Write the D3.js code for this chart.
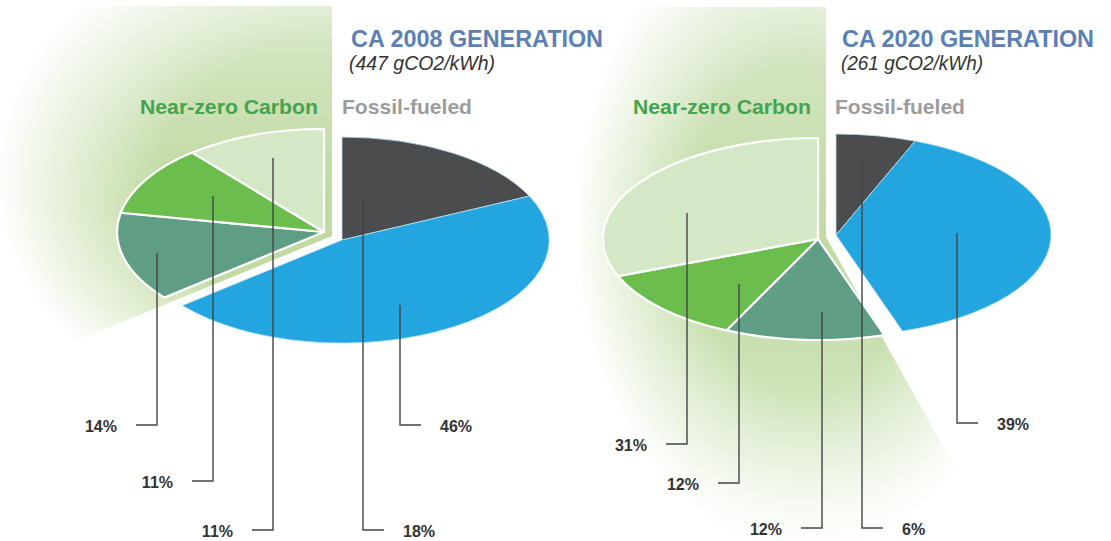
<!DOCTYPE html>
<html>
<head>
<meta charset="utf-8">
<script src="https://cdn.jsdelivr.net/npm/d3@7"></script>
<style>
  html, body { margin: 0; padding: 0; background: #fff; }
  svg { display: block; font-family: "Liberation Sans", Arial, sans-serif; }
</style>
</head>
<body>
<div id="chart"></div>
<script>
// slice order, clockwise from 12 o'clock: 2 fossil slices then 3 near-zero slices
var sliceKeys = ["coal / other", "natural gas", "nuclear", "large hydro", "renewables"];
var sliceGroup = ["fossil", "fossil", "nearZero", "nearZero", "nearZero"];
var sliceColors = ["#4b4c4e", "#23a6e0", "#5f9e84", "#6bbd4e", "#d5e8c5"];

var years = ["2008", "2020"];
var intensities = ["447 gCO2/kWh", "261 gCO2/kWh"];
var shares2008 = [18, 46, 14, 11, 11];
var shares2020 = [6, 39, 12, 12, 31];

var groupTitles = ["Near-zero Carbon", "Fossil-fueled"];

// layout only (px in the 1111x541 frame)
var layouts = [
  {
    nz: [324, 232], fossil: [342, 240], rx: 207, ry: 103,
    glow: [[0, 6], [332, 6], [332, 236], [0, 372]],
    fade: {cx: 330, cy: 175, rx: 335, ry: 265},
    fill: [[0, "#d9e8cb"], [0.55, "#bfd99f"], [1, "#c4dca6"]], fillH: 372,
    title: [351, 252], sub: [349, 146], groupX: 332,
    leaders: [
      {x: 363, top: 200, y: 530, dir: 1},
      {x: 400, top: 305, y: 425, dir: 1},
      {x: 157, top: 253, y: 425, dir: -1},
      {x: 213, top: 196, y: 481, dir: -1},
      {x: 273, top: 158, y: 530, dir: -1}
    ]
  },
  {
    nz: [818, 239], fossil: [836, 235], rx: 215, ry: 101,
    glow: [[572, 7], [826, 7], [826, 237], [996, 541], [572, 541]],
    fade: {cx: 805, cy: 225, rx: 230, ry: 330},
    fill: [[0, "#d9e8cb"], [0.45, "#c0daa1"], [0.8, "#d2e5bf"], [1, "#eaf3e2"]], fillH: 541,
    title: [842, 252], sub: [841, 142], groupX: 825,
    leaders: [
      {x: 862, top: 160, y: 528, dir: 1},
      {x: 957, top: 233, y: 423, dir: 1},
      {x: 822, top: 312, y: 528, dir: -1},
      {x: 739, top: 284, y: 483, dir: -1},
      {x: 687, top: 213, y: 444, dir: -1}
    ]
  }
];

var width = 1111, height = 541;
var svg = d3.select("#chart").append("svg")
  .attr("width", width)
  .attr("height", height);

var defs = svg.append("defs");

var pie = d3.pie().sort(null).value(d => d).startAngle(0).endAngle(2 * Math.PI);
var arc = d3.arc().innerRadius(0).outerRadius(1);

[shares2008, shares2020].forEach(function(shares, i) {
  var L = layouts[i];

  // green glow behind the near-zero half
  var fill = defs.append("linearGradient")
    .attr("id", "glowFill" + i)
    .attr("gradientUnits", "userSpaceOnUse")
    .attr("x1", 0).attr("y1", 0).attr("x2", 0).attr("y2", L.fillH);
  L.fill.forEach(s => fill.append("stop").attr("offset", s[0]).attr("stop-color", s[1]));

  var fade = defs.append("radialGradient")
    .attr("id", "glowFade" + i)
    .attr("gradientUnits", "userSpaceOnUse")
    .attr("cx", 0).attr("cy", 0).attr("r", 1)
    .attr("gradientTransform", `translate(${L.fade.cx},${L.fade.cy}) scale(${L.fade.rx},${L.fade.ry})`);
  fade.append("stop").attr("offset", 0).attr("stop-color", "#fff");
  fade.append("stop").attr("offset", 0.5).attr("stop-color", "#fff");
  fade.append("stop").attr("offset", 1).attr("stop-color", "#000");

  defs.append("mask").attr("id", "glowMask" + i)
    .attr("maskUnits", "userSpaceOnUse")
    .attr("x", 0).attr("y", 0).attr("width", width).attr("height", height)
    .append("rect")
    .attr("width", width).attr("height", height)
    .attr("fill", "url(#glowFade" + i + ")");

  svg.append("path")
    .attr("d", d3.line()(L.glow) + "Z")
    .attr("fill", "url(#glowFill" + i + ")")
    .attr("mask", "url(#glowMask" + i + ")");

  var g = svg.append("g");

  // titles
  g.append("text")
    .attr("x", L.title[0]).attr("y", 47)
    .attr("textLength", L.title[1]).attr("lengthAdjust", "spacingAndGlyphs")
    .attr("font-size", 24).attr("font-weight", "bold").attr("fill", "#5b80b5")
    .text("CA " + years[i] + " GENERATION");

  g.append("text")
    .attr("x", L.sub[0]).attr("y", 70)
    .attr("textLength", L.sub[1]).attr("lengthAdjust", "spacingAndGlyphs")
    .attr("font-size", 19.5).attr("font-style", "italic").attr("fill", "#333")
    .text("(" + intensities[i] + ")");

  g.append("text")
    .attr("x", L.groupX - 14).attr("y", 114)
    .attr("text-anchor", "end")
    .attr("textLength", 178).attr("lengthAdjust", "spacingAndGlyphs")
    .attr("font-size", 20.5).attr("font-weight", "bold").attr("fill", "#45a34f")
    .text(groupTitles[0]);

  g.append("text")
    .attr("x", L.groupX + 10).attr("y", 114)
    .attr("textLength", 130).attr("lengthAdjust", "spacingAndGlyphs")
    .attr("font-size", 21).attr("font-weight", "bold").attr("fill", "#9c9c9c")
    .text(groupTitles[1]);

  // slices, squashed into an ellipse, the two groups pulled apart
  var arcs = pie(shares);
  g.selectAll("path.slice")
    .data(arcs)
    .join("path")
    .attr("class", "slice")
    .attr("transform", (d, k) => {
      var c = sliceGroup[k] == "fossil" ? L.fossil : L.nz;
      return `translate(${c[0]},${c[1]}) scale(${L.rx},${L.ry})`;
    })
    .attr("d", arc)
    .attr("fill", (d, k) => sliceColors[k])
    .attr("stroke", (d, k) => sliceGroup[k] == "fossil" ? "#bfe0f2" : "#fff")
    .attr("stroke-width", (d, k) => sliceGroup[k] == "fossil" ? 0.8 : 2.2)
    .attr("stroke-linejoin", "round")
    .attr("vector-effect", "non-scaling-stroke");

  // leader lines and percent labels
  g.selectAll("path.leader")
    .data(arcs)
    .join("path")
    .attr("class", "leader")
    .attr("d", (d, k) => {
      var q = L.leaders[k];
      return `M${q.x},${q.top}V${q.y}H${q.x + q.dir * 21}`;
    })
    .attr("fill", "none")
    .attr("stroke", "#444")
    .attr("stroke-width", 1.4);

  g.selectAll("text.pct")
    .data(arcs)
    .join("text")
    .attr("class", "pct")
    .attr("x", (d, k) => { var q = L.leaders[k]; return q.x + q.dir * 40; })
    .attr("y", (d, k) => L.leaders[k].y + 7)
    .attr("text-anchor", (d, k) => L.leaders[k].dir > 0 ? "start" : "end")
    .attr("font-size", 16).attr("font-weight", "bold").attr("fill", "#333")
    .text(d => d.data + "%");
});
</script>
</body>
</html>
